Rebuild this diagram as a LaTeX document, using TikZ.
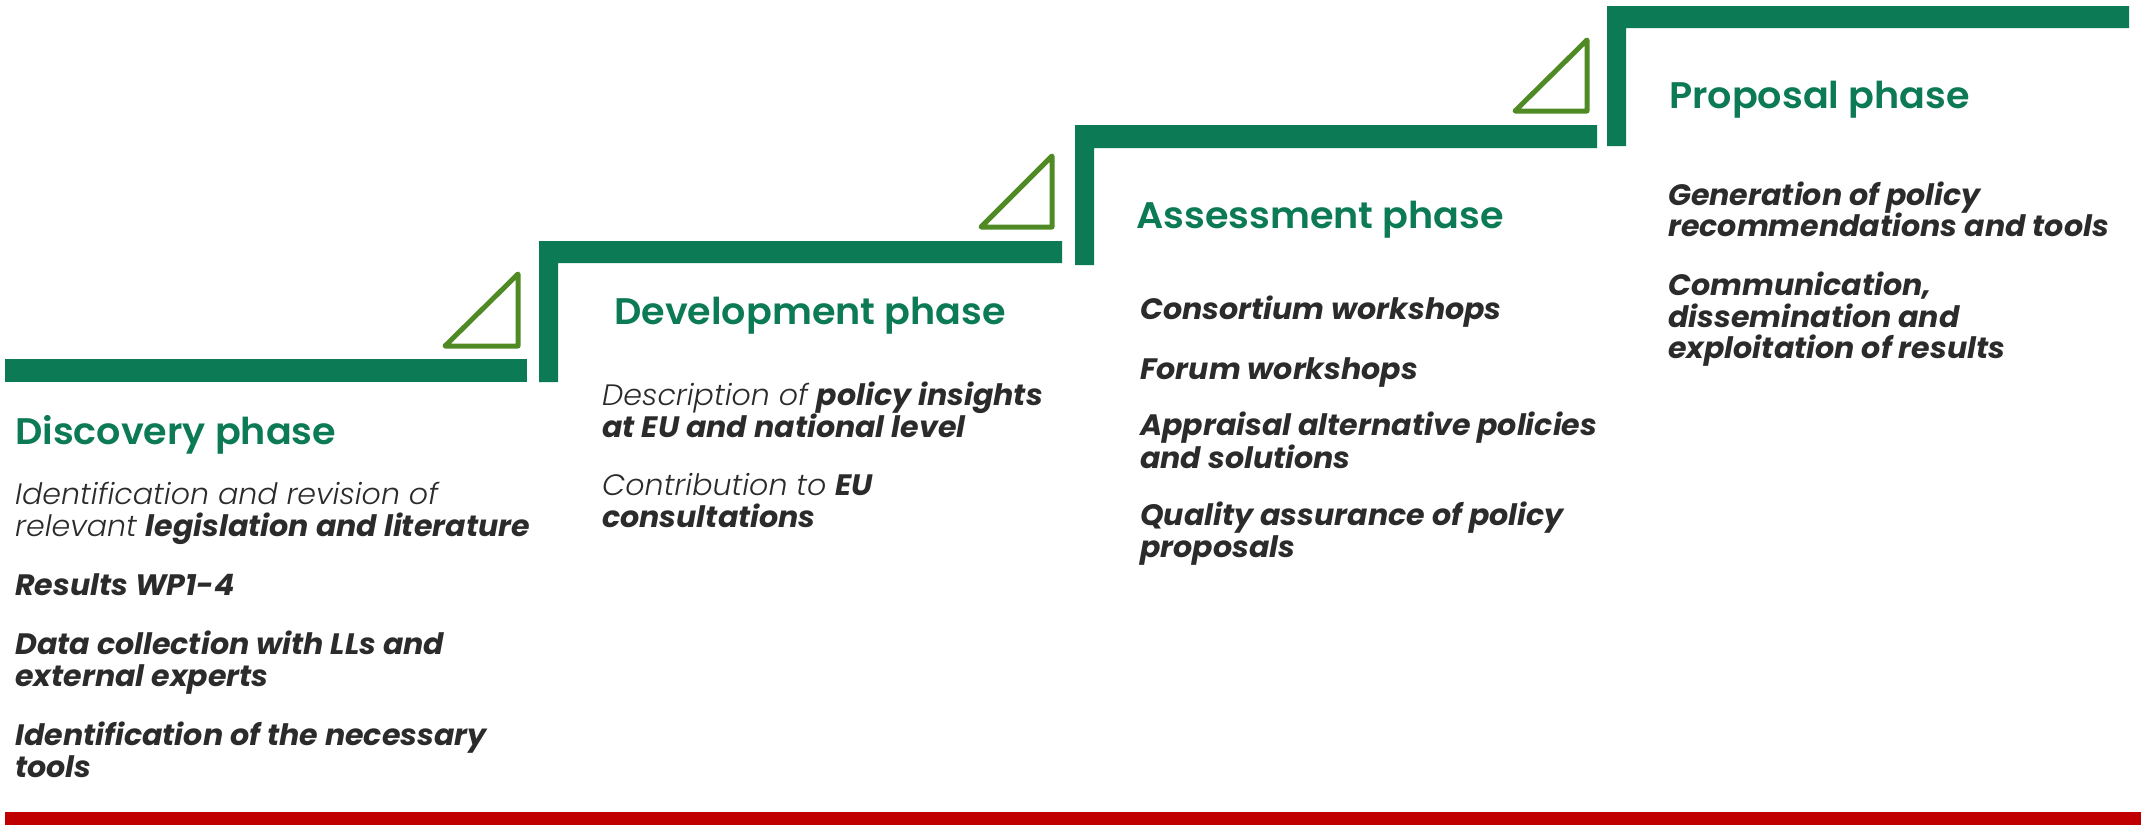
\documentclass[tikz,border=0pt]{standalone}
\usepackage{fontspec}
\setmainfont{Poppins}[FakeStretch=1.02, BoldFont={Poppins Bold}, ItalicFont={Poppins Light Italic}, BoldItalicFont={Poppins Bold Italic}]
\newfontfamily\titlefont{Poppins SemiBold}[FakeStretch=1.03]
\definecolor{phgreen}{HTML}{0B7A55}
\definecolor{triolive}{HTML}{4F8A24}
\definecolor{txtgray}{HTML}{2B2B2B}
\definecolor{redline}{HTML}{C00000}
\tikzset{
  ttl/.style={anchor=base west, inner sep=0pt, text=phgreen, font=\titlefont\fontsize{37}{40}\selectfont},
  txt/.style={anchor=base west, inner sep=0pt, text=txtgray, font=\itshape\fontsize{29.5}{32}\selectfont},
  stepbar/.style={fill=phgreen},
  tri/.style={draw=triolive, line width=5pt, line join=round},
}
\begin{document}
\begin{tikzpicture}[x=1pt,y=-1pt]
\useasboundingbox (0,0) rectangle (2144,825);
% steps
\fill[stepbar] (4.5,359) rectangle (527,382);
\fill[stepbar] (539,382) -- (539,241) -- (1062,241) -- (1062,263) -- (558,263) -- (558,382) -- cycle;
\fill[stepbar] (1075,265) -- (1075,125) -- (1597,125) -- (1597,148) -- (1094,148) -- (1094,265) -- cycle;
\fill[stepbar] (1607,146) -- (1607,6) -- (2129,6) -- (2129,28) -- (1626,28) -- (1626,146) -- cycle;
% triangles
\draw[tri] (445,346) -- (518,274) -- (518,346) -- cycle;
\draw[tri] (981,227) -- (1052,156) -- (1052,227) -- cycle;
\draw[tri] (1515,111) -- (1587,40) -- (1587,111) -- cycle;
% red line
\fill[redline] (5,812) rectangle (2141,825);
% titles
\node[ttl] (t1) at (15,444) {Discovery phase};
\node[ttl] (t2) at (614,324) {Development phase};
\node[ttl] (t3) at (1136,228) {Assessment phase};
\node[ttl] (t4) at (1669,108.5) {Proposal phase};
% discovery
\node[txt] (d1) at (15,504) {Identification and revision of};
\node[txt] (d2) at (15,536) {relevant \textbf{legislation and literature}};
\node[txt] (d3) at (15,595) {\bfseries Results WP1-4};
\node[txt] (d4) at (15,654) {\bfseries Data collection with LLs and};
\node[txt] (d5) at (15,686) {\bfseries external experts};
\node[txt] (d6) at (15,745) {\bfseries Identification of the necessary};
\node[txt] (d7) at (15,777) {\bfseries tools};
% development
\node[txt] (v1) at (602,405) {Description of \textbf{policy insights}};
\node[txt] (v2) at (602,437) {\bfseries at EU and national level};
\node[txt] (v3) at (602,495) {Contribution to \textbf{EU}};
\node[txt] (v4) at (602,527) {\bfseries consultations};
% assessment
\node[txt] (a1) at (1140,319) {\bfseries Consortium workshops};
\node[txt] (a2) at (1140,379) {\bfseries Forum workshops};
\node[txt] (a3) at (1140,435) {\bfseries Appraisal alternative policies};
\node[txt] (a4) at (1140,468) {\bfseries and solutions};
\node[txt] (a5) at (1140,525) {\bfseries Quality assurance of policy};
\node[txt] (a6) at (1140,557) {\bfseries proposals};
% proposal
\node[txt] (p1) at (1668,205) {\bfseries Generation of policy};
\node[txt] (p2) at (1668,236) {\bfseries recommendations and tools};
\node[txt] (p3) at (1668,295) {\bfseries Communication,};
\node[txt] (p4) at (1668,327) {\bfseries dissemination and};
\node[txt] (p5) at (1668,358) {\bfseries exploitation of results};
\end{tikzpicture}
\end{document}
